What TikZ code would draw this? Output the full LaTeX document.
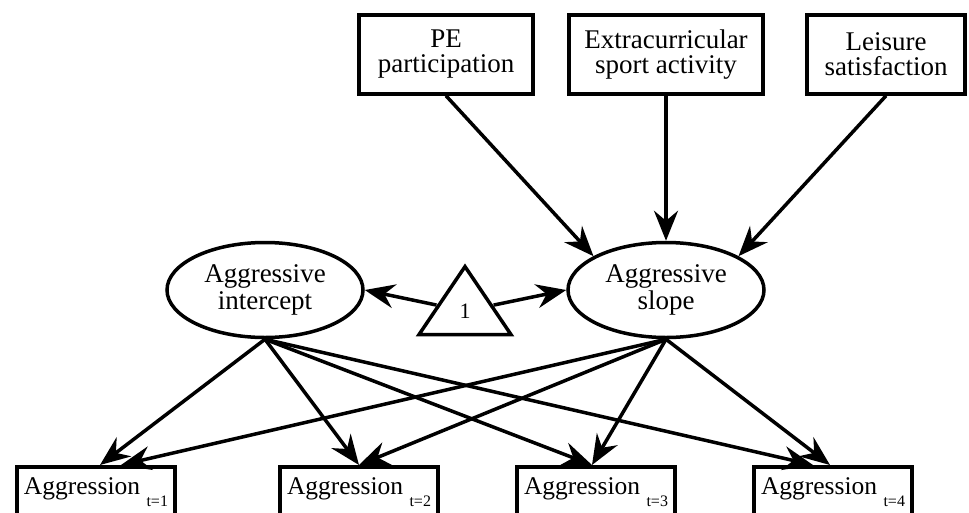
\documentclass[tikz,border=0pt]{standalone}
\usepackage{fontspec}
\setmainfont{Liberation Serif}
\usetikzlibrary{arrows.meta}
\usetikzlibrary{shapes.geometric}

\begin{document}
\begin{tikzpicture}[x=1pt, y=-1pt, line width=3.5pt,
  predictor/.style={draw, rectangle, align=center, minimum width=#1, minimum height=79pt, inner sep=0pt, font=\fontsize{27}{25}\selectfont},
  growth/.style={draw, ellipse, align=center, minimum width=196pt, minimum height=95pt, inner sep=0pt, font=\fontsize{27}{27}\selectfont},
  wave/.style={draw, rectangle, anchor=north, minimum width=158pt, inner xsep=0pt, inner ysep=8pt, text height=20pt, text depth=30pt, font=\fontsize{25.5}{25.5}\selectfont},
  effect/.style={-{Stealth[length=30pt,width=24pt,inset=10pt]}}]
\newcommand{\wavelabel}[1]{Aggression\ \raisebox{-12pt}{\fontsize{16}{16}\selectfont t=#1}}
\useasboundingbox (0,0) rectangle (969,512);
\node (pe) [predictor=174pt] at (446,54.5) {PE\\participation};
\node (extra) [predictor=194pt] at (666,54.5) {Extracurricular\\sport activity};
\node (leisure) [predictor=158pt] at (886,54.5) {Leisure\\satisfaction};
\node (icpt) [growth] at (265,290) {Aggressive\\intercept};
\node (slope) [growth] at (666,290) {Aggressive\\slope};
\node (one) [draw, isosceles triangle, shape border rotate=90, isosceles triangle stretches, minimum width=92pt, minimum height=68pt, inner sep=0pt, anchor=apex, font=\fontsize{22}{22}\selectfont] at (465,262) {1};
\node (t1) [wave] at (96,465) {\wavelabel{1}};
\node (t2) [wave] at (359,465) {\wavelabel{2}};
\node (t3) [wave] at (596,465) {\wavelabel{3}};
\node (t4) [wave] at (833,465) {\wavelabel{4}};
\draw[effect] (pe.south) -- (slope.155);
\draw[effect] (extra) -- (slope);
\draw[effect] (leisure.south) -- (slope.25);
\draw[effect] (one) -- (icpt.east);
\draw[effect] (one) -- (slope.west);
\draw[effect] (icpt.south) -- ([xshift=4pt]t1.north);
\draw[effect] (icpt.south) -- (t2.north);
\draw[effect] (icpt.south) -- ([xshift=-4pt]t3.north);
\draw[effect] (icpt.south) -- ([xshift=-20pt]t4.north);
\draw[effect] (slope.south) -- ([xshift=25pt]t1.north);
\draw[effect] (slope.south) -- (t2.north);
\draw[effect] (slope.south) -- ([xshift=-4pt]t3.north);
\draw[effect] (slope.south) -- ([xshift=-3pt]t4.north);
\end{tikzpicture}
\end{document}
